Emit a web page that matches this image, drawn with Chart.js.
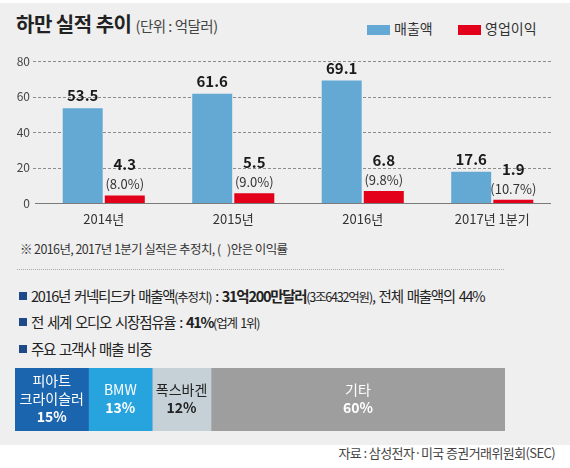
<!DOCTYPE html>
<html>
<head>
<meta charset="utf-8">
<script src="https://cdn.jsdelivr.net/npm/chart.js@4"></script>
<style>
  body { margin: 0; width: 570px; height: 468px; background: #fff; font-family: "Noto Sans CJK KR", sans-serif; color: #222; overflow: hidden; }
  #panel { position: absolute; left: 0; top: 3px; width: 570px; height: 442px; background: #efefef; }
  .abs { position: absolute; white-space: nowrap; }
  .title { left: 16px; top: 9px; font-size: 20px; font-weight: bold; letter-spacing: -0.5px; }
  .title span { font-size: 14.5px; font-weight: normal; color: #444; letter-spacing: -0.5px; }
  .leg { top: 18px; font-size: 14px; color: #333; }
  .box { display: inline-block; width: 23px; height: 10px; vertical-align: -1px; margin-right: 4px; }
  .note { left: 20px; top: 239px; font-size: 12.5px; color: #333; letter-spacing: -0.6px; }
  .sep { left: 17px; top: 269px; width: 487px; border-top: 1.5px dotted #aaa; }
  .bul { left: 19px; font-size: 14.5px; letter-spacing: -1.3px; word-spacing: 2px; color: #222; }
  .bul i { display: inline-block; width: 8px; height: 8px; background: #1f4a8a; margin-right: 4px; vertical-align: 2px; }
  .bul small { font-size: 12.5px; letter-spacing: -1.2px; }
  .src { right: 15px; top: 443px; font-size: 13px; color: #444; letter-spacing: -0.6px; }
</style>
</head>
<body>
<div id="panel"></div>
<div class="abs title">하만 실적 추이 <span>(단위 : 억달러)</span></div>
<div class="abs leg" style="left:367px;"><span class="box" style="background:#64a9d3"></span>매출액</div>
<div class="abs leg" style="left:458px;"><span class="box" style="background:#e2001a"></span>영업이익</div>

<canvas id="salesChart" width="570" height="190" style="position:absolute;left:0;top:45px;"></canvas>

<div class="abs note">※ 2016년, 2017년 1분기 실적은 추정치, (&nbsp;&nbsp;&nbsp;)안은 이익률</div>
<div class="abs sep"></div>
<div class="abs bul" style="top:285px;"><i></i>2016년 커넥티드카 매출액<small>(추정치)</small> : <b>31억200만달러</b><small>(3조6432억원)</small>, 전체 매출액의 44%</div>
<div class="abs bul" style="top:311px;"><i></i>전 세계 오디오 시장점유율 : <b>41%</b><small>(업계 1위)</small></div>
<div class="abs bul" style="top:338px;"><i></i>주요 고객사 매출 비중</div>

<canvas id="shareChart" width="490" height="63" style="position:absolute;left:15px;top:368px;"></canvas>

<div class="abs src">자료 : 삼성전자·미국 증권거래위원회(SEC)</div>

<script>
// 하만 실적 (억달러)
var periods = ["2014년", "2015년", "2016년", "2017년 1분기"];
var sales = [53.5, 61.6, 69.1, 17.6];
var profit = [4.3, 5.5, 6.8, 1.9];
var margins = ["(8.0%)", "(9.0%)", "(9.8%)", "(10.7%)"];
var yTicks = [0, 20, 40, 60, 80];

// 주요 고객사 매출 비중 (%)
var customers = [["피아트", "크라이슬러"], ["BMW"], ["폭스바겐"], ["기타"]];
var customerShare = [15, 13, 12, 60];
var customerColors = ["#1b65ae", "#27a3dd", "#c6d1d7", "#9e9e9e"];
var customerText = ["#fff", "#fff", "#222", "#fff"];

var FONT = "'Noto Sans CJK KR', sans-serif";

// dashed guide lines, drawn from the y scale
var guideLines = {
    id: 'guideLines',
    beforeDatasetsDraw: function(chart) {
        var ctx = chart.ctx;
        var y = chart.scales.y;
        ctx.save();
        ctx.lineWidth = 1;
        yTicks.forEach(function(v) {
            var py = Math.round(y.getPixelForValue(v)) + 0.5;
            ctx.beginPath();
            if (v === 0) {
                ctx.setLineDash([]);
                ctx.strokeStyle = '#7a7a7a';
                ctx.moveTo(35, py);
            } else {
                ctx.setLineDash([3, 2]);
                ctx.strokeStyle = '#8c8c8c';
                ctx.moveTo(33, py);
            }
            ctx.lineTo(551, py);
            ctx.stroke();
        });
        ctx.restore();
    }
};

var valueLabels = {
    id: 'valueLabels',
    afterDatasetsDraw: function(chart) {
        var ctx = chart.ctx;
        ctx.save();
        ctx.textAlign = 'center';
        ctx.textBaseline = 'alphabetic';
        chart.data.datasets.forEach(function(ds, di) {
            chart.getDatasetMeta(di).data.forEach(function(bar, i) {
                var v = ds.data[i].toFixed(1);
                ctx.fillStyle = '#1a1a1a';
                if (di === 0) {
                    ctx.font = 'bold 15px ' + FONT;
                    ctx.fillText(v, bar.x, bar.y - 7);
                } else {
                    ctx.font = '13px ' + FONT;
                    ctx.fillStyle = '#333';
                    ctx.fillText(margins[i], bar.x, bar.y - 6);
                    ctx.font = 'bold 15px ' + FONT;
                    ctx.fillStyle = '#1a1a1a';
                    ctx.fillText(v, bar.x, bar.y - 25);
                }
            });
        });
        ctx.restore();
    }
};

new Chart(document.getElementById('salesChart'), {
    type: 'bar',
    data: {
        labels: periods,
        datasets: [{
            label: '매출액',
            data: sales,
            backgroundColor: '#64a9d3',
            categoryPercentage: 0.65,
            barPercentage: 0.95
        }, {
            label: '영업이익',
            data: profit,
            backgroundColor: '#e2001a',
            categoryPercentage: 0.65,
            barPercentage: 0.95
        }]
    },
    options: {
        responsive: false,
        animation: false,
        devicePixelRatio: 1,
        layout: { padding: { top: 10, right: 13, left: 0, bottom: 0 } },
        plugins: { legend: { display: false }, tooltip: { enabled: false } },
        scales: {
            x: {
                grid: { display: false, drawTicks: false },
                border: { display: false },
                ticks: { color: '#333', font: { family: FONT, size: 13 }, padding: 8 },
                afterFit: function(scale) { scale.height = 32; }
            },
            y: {
                min: 0,
                max: 80,
                afterBuildTicks: function(scale) {
                    scale.ticks = yTicks.map(function(v) { return { value: v }; });
                },
                grid: { display: false, drawTicks: false },
                border: { display: false },
                ticks: { color: '#444', font: { family: FONT, size: 12 }, padding: 9 },
                afterFit: function(scale) { scale.width = 39; }
            }
        }
    },
    plugins: [guideLines, valueLabels]
});

var shareLabels = {
    id: 'shareLabels',
    afterDatasetsDraw: function(chart) {
        var ctx = chart.ctx;
        ctx.save();
        ctx.textAlign = 'center';
        ctx.textBaseline = 'middle';
        chart.data.datasets.forEach(function(ds, di) {
            var bar = chart.getDatasetMeta(di).data[0];
            var cx = (bar.x + bar.base) / 2;
            var lines = customers[di].concat([customerShare[di] + '%']);
            var lh = 18;
            var y0 = bar.y - (lines.length - 1) * lh / 2 - 1;
            ctx.fillStyle = customerText[di];
            lines.forEach(function(t, k) {
                ctx.font = (k === lines.length - 1 ? 'bold ' : '') + '14px ' + FONT;
                ctx.fillText(t, cx, y0 + k * lh);
            });
        });
        ctx.restore();
    }
};

new Chart(document.getElementById('shareChart'), {
    type: 'bar',
    data: {
        labels: ['비중'],
        datasets: customerShare.map(function(v, i) {
            return {
                label: customers[i].join(''),
                data: [v],
                backgroundColor: customerColors[i],
                barPercentage: 1,
                categoryPercentage: 1
            };
        })
    },
    options: {
        indexAxis: 'y',
        responsive: false,
        animation: false,
        devicePixelRatio: 1,
        layout: { padding: 0 },
        plugins: { legend: { display: false }, tooltip: { enabled: false } },
        scales: {
            x: { stacked: true, display: false, min: 0, max: 100 },
            y: { stacked: true, display: false }
        }
    },
    plugins: [shareLabels]
});
</script>
</body>
</html>
